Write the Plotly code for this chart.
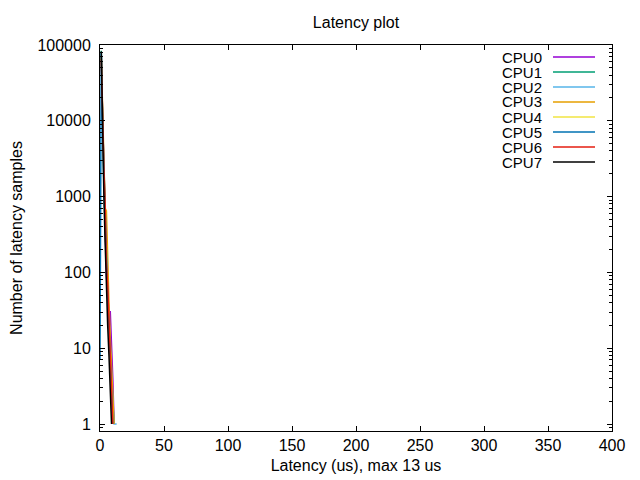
import plotly.graph_objects as go

latency_us = list(range(0, 14))
cpu_names = ["CPU0", "CPU1", "CPU2", "CPU3", "CPU4", "CPU5", "CPU6", "CPU7"]
cpu0 = [0, 72000, 9500, 1900, 420, 95, 38, 22, 31, 12, 4, 1, 0, 0]
cpu1 = [0, 84000, 8800, 1600, 380, 110, 45, 18, 9, 5, 2, 1, 0, 0]
cpu2 = [0, 76000, 12000, 1500, 700, 150, 60, 25, 10, 4, 2, 1, 1, 1]
cpu3 = [0, 70000, 10500, 3500, 700, 650, 120, 40, 14, 6, 3, 1, 0, 0]
cpu4 = [0, 68000, 9800, 2200, 900, 160, 55, 20, 8, 3, 1, 0, 0, 0]
cpu5 = [7, 80000, 11000, 2600, 600, 140, 50, 20, 7, 3, 1, 0, 0, 0]
cpu6 = [0, 65000, 7000, 2400, 800, 130, 70, 26, 9, 2.3, 1, 0, 0, 0]
cpu7 = [0, 82000, 6500, 1100, 250, 60, 20, 8, 3, 1, 0, 0, 0, 0]
cpu_series = [cpu0, cpu1, cpu2, cpu3, cpu4, cpu5, cpu6, cpu7]
colors = ["#9400d3", "#009e73", "#56b4e9", "#e69f00", "#f0e442", "#0072b2", "#e51e10", "#000000"]

y_tickvals = [1, 10, 100, 1000, 10000, 100000]
y_ticktext = ["1", "10", "100", "1000", "10000", "100000"]
x_tickvals = [0, 50, 100, 150, 200, 250, 300, 350, 400]

FONT = "Liberation Sans, Arial, sans-serif"
OFF = 8  # page body margin offset
W, H = 640 - OFF, 480 - OFF
L, T = 100 - OFF, 45 - OFF
R, B = 28, 49
pw, ph = W - L - R, H - T - B

def px_x(px):
    return (px - OFF - L) / pw

def px_y(py):
    return (H - B - (py - OFF)) / ph

fig = go.Figure()
for name, vals, col in zip(cpu_names, cpu_series, colors):
    yv = [v if v > 0 else None for v in vals]
    fig.add_trace(go.Scatter(x=latency_us, y=yv, mode="lines", name=name,
                             line=dict(color=col, width=1.5), connectgaps=False,
                             showlegend=False))

# legend drawn gnuplot-style (text right, sample to the right)
for i, (name, col) in enumerate(zip(cpu_names, colors)):
    yp = px_y(57 + 15 * i)
    fig.add_annotation(x=px_x(543), y=yp, xref="paper", yref="paper",
                       text=name, showarrow=False, xanchor="right", yanchor="middle",
                       borderpad=0, font=dict(family=FONT, size=15, color="black"))
    fig.add_shape(type="line", xref="paper", yref="paper",
                  x0=px_x(553), x1=px_x(595), y0=yp, y1=yp,
                  line=dict(color=col, width=1.5))

fig.update_layout(
    width=W, height=H,
    margin=dict(l=L, r=R, t=T, b=B, autoexpand=False),
    paper_bgcolor="white", plot_bgcolor="white",
    font=dict(family=FONT, size=16, color="black"),
    title=dict(text="Latency plot", x=(L + pw / 2) / W, xanchor="center",
               y=1 - (22 - OFF) / H, yanchor="middle", font=dict(size=16)),
    showlegend=False,
)
fig.update_xaxes(range=[0, 400], tickvals=x_tickvals, ticks="inside", ticklen=5,
                 mirror="ticks", showline=True, linecolor="black", linewidth=1,
                 tickcolor="black", showgrid=False, zeroline=False, automargin=False,
                 title=dict(text="Latency (us), max 13 us", standoff=6, font=dict(size=16)))
fig.update_yaxes(type="log", range=[-0.092, 5.0], tickvals=y_tickvals, ticktext=y_ticktext,
                 ticks="inside", ticklen=5, mirror="ticks", showline=True,
                 linecolor="black", linewidth=1, tickcolor="black", showgrid=False,
                 zeroline=False, automargin=False, ticklabelstandoff=5,
                 minor=dict(ticks="inside", ticklen=3, tickcolor="black", dtick="D1", showgrid=False),
                 title=dict(text="Number of latency samples", standoff=26, font=dict(size=16)))

fig.write_html("out.html")
